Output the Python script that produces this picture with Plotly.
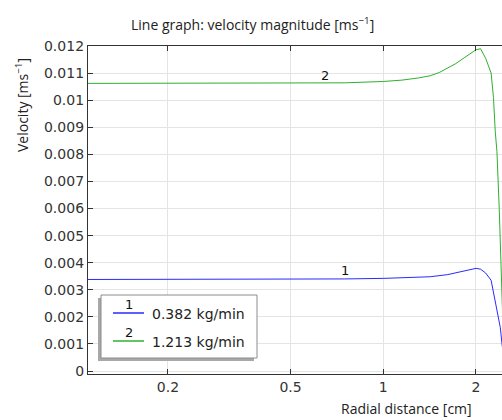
import numpy as np
import plotly.graph_objects as go

# ---- data ----
r_blue = [0.11, 0.2, 0.5, 0.75, 1.0, 1.2, 1.42, 1.62, 1.83, 1.95, 2.0, 2.07, 2.15,
          2.24, 2.28, 2.34, 2.40, 2.43, 2.47, 2.5]
v_blue = [0.00338, 0.00338, 0.00339, 0.0034, 0.00342, 0.00344, 0.00348, 0.00356, 0.00368,
          0.00376, 0.00379, 0.00376, 0.00362, 0.00335, 0.00287, 0.00224, 0.0016, 0.0010,
          0.0004, 0.0]
r_green = [0.11, 0.2, 0.5, 0.75, 1.0, 1.15, 1.3, 1.42, 1.52, 1.62, 1.72, 1.83, 1.92, 2.0,
           2.07, 2.15, 2.24, 2.28, 2.31, 2.34, 2.38, 2.415, 2.45, 2.5]
v_green = [0.01062, 0.01062, 0.01062, 0.01064, 0.01069, 0.01074, 0.01082, 0.0109, 0.01102,
           0.01118, 0.01135, 0.01156, 0.01172, 0.01186, 0.0119, 0.01155, 0.0110, 0.0101,
           0.00886, 0.0081, 0.0060, 0.0034, 0.0015, 0.0]
series_names = ["0.382 kg/min", "1.213 kg/min"]
series_tags = ["1", "2"]
colors = ["#2a2aff", "#2eb02e"]
x_ticks = [0.2, 0.5, 1, 2]
x_tick_text = ["0.2", "0.5", "1", "2"]
y_ticks = [i / 1000 for i in range(13)]
y_tick_text = ["0"] + ["%g" % (i / 1000) for i in range(1, 13)]
tag_r = [0.75, 0.648]

W, H = 502, 420
L, R, T, B = 88, 0, 46, 46
PW, PH = W - L - R, H - T - B

def px(x):
    return (x - L) / PW

def py(y):
    return (H - B - y) / PH

TICKFONT = dict(family="DejaVu Sans", size=14, color="#333333")
TITLEFONT = dict(family="Open Sans", size=14, color="#222222")

fig = go.Figure()
for rr, vv, c, n in [(r_blue, v_blue, colors[0], series_names[0]),
                     (r_green, v_green, colors[1], series_names[1])]:
    fig.add_trace(go.Scatter(x=rr, y=vv, mode="lines", name=n,
                             line=dict(color=c, width=1), showlegend=False))

# line tags
for tag, r0, rr, vv in [(series_tags[0], tag_r[0], r_blue, v_blue),
                        (series_tags[1], tag_r[1], r_green, v_green)]:
    y0 = float(np.interp(np.log10(r0), np.log10(rr), vv))
    fig.add_annotation(x=np.log10(r0), y=y0, text=tag, showarrow=False,
                       xref="x", yref="y", yanchor="middle", yshift=8,
                       font=dict(family="DejaVu Sans", size=13, color="#111111"))

fig.update_xaxes(type="log", range=[np.log10(0.110), np.log10(2.43)],
                 tickvals=x_ticks, ticktext=x_tick_text, tickfont=TICKFONT,
                 showgrid=True, gridcolor="#e4e4e4", gridwidth=1,
                 showline=True, linecolor="#333333", linewidth=1.3,
                 mirror="ticks", ticks="inside", ticklen=5, tickcolor="#333333",
                 zeroline=False)
fig.update_yaxes(range=[-0.00011, 0.012], tickvals=y_ticks, ticktext=y_tick_text,
                 tickfont=TICKFONT, showgrid=True, gridcolor="#e4e4e4", gridwidth=1,
                 showline=True, linecolor="#333333", linewidth=1.3,
                 ticks="inside", ticklen=5, tickcolor="#333333", zeroline=False)

# custom legend
shapes = [
    dict(type="rect", xref="paper", yref="paper", x0=px(98), x1=px(254), y0=py(361), y1=py(298),
         fillcolor="#a8a8a8", line=dict(width=0), layer="above"),
    dict(type="rect", xref="paper", yref="paper", x0=px(101), x1=px(257), y0=py(358), y1=py(295),
         fillcolor="white", line=dict(color="#8c8c8c", width=1), layer="above"),
]
for i, yy in enumerate([313, 341]):
    shapes.append(dict(type="line", xref="paper", yref="paper", x0=px(113), x1=px(144),
                       y0=py(yy), y1=py(yy), line=dict(color=colors[i], width=1.5), layer="above"))
    fig.add_annotation(xref="paper", yref="paper", x=px(128.5), y=py(yy - 9), text=series_tags[i],
                       showarrow=False, xanchor="center", yanchor="middle",
                       font=dict(family="DejaVu Sans", size=13, color="#111111"))
    fig.add_annotation(xref="paper", yref="paper", x=px(150), y=py(yy + 1), text=series_names[i],
                       showarrow=False, xanchor="left", yanchor="middle",
                       font=dict(family="DejaVu Sans", size=14, color="#222222"))

# titles
fig.add_annotation(xref="paper", yref="paper", x=px(252), y=py(24),
                   text="Line graph: velocity magnitude [ms<sup>−1</sup>]", showarrow=False,
                   xanchor="center", yanchor="middle", font=TITLEFONT)
fig.add_annotation(xref="paper", yref="paper", x=px(22), y=py(105),
                   text="Velocity [ms<sup>−1</sup>]", showarrow=False, textangle=-90,
                   xanchor="center", yanchor="middle", font=TITLEFONT)
fig.add_annotation(xref="paper", yref="paper", x=px(406), y=py(408),
                   text="Radial distance [cm]", showarrow=False,
                   xanchor="center", yanchor="middle", font=TITLEFONT)

fig.update_layout(width=W, height=H, margin=dict(l=L, r=R, t=T, b=B),
                  paper_bgcolor="white", plot_bgcolor="white", shapes=shapes,
                  showlegend=False)
fig.write_html("out.html")
